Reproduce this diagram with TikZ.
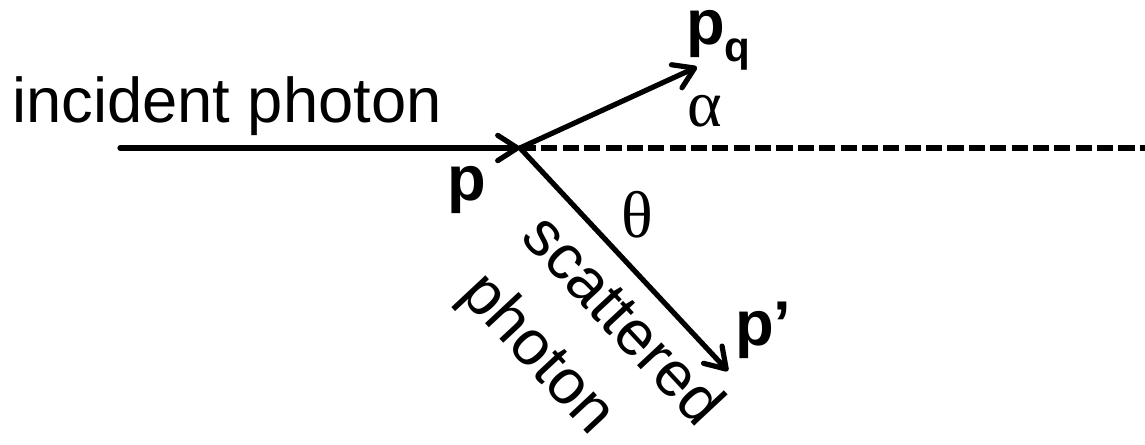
\documentclass[tikz,border=0pt]{standalone}
\usepackage{fontspec}
\setmainfont{Liberation Sans}
\newfontfamily\greekfont{Liberation Serif}
\usetikzlibrary{arrows.meta}

\begin{document}
\begin{tikzpicture}[x=0.025cm, y=0.025cm,
  ray/.style={line width=3.7pt, line cap=round, line join=round,
    -{Straight Barb[length=14pt, width=18pt, round]}},
  axisline/.style={line width=3.8pt, dash pattern=on 11.4pt off 3.8pt},
  lab/.style={font=\fontsize{45}{54}\selectfont, inner sep=0pt},
  vec/.style={inner sep=0pt, font=\fontsize{45}{54}\selectfont\bfseries},
  greek/.style={inner sep=0pt, font=\fontsize{47}{54}\selectfont\greekfont}]
\useasboundingbox (0,0) rectangle (1145,445);
% ---------------- rays ----------------
\coordinate (src) at (120,297);
\coordinate (O) at (520,297);
\coordinate (far) at (1145,297);
\coordinate (pqtip) at (697,378);
\coordinate (pptip) at (728,74);
\draw[axisline] (O) -- (far);
\draw[ray] (src) -- (O);
\draw[ray] (O) -- (pqtip);
\draw[ray] (O) -- (pptip);
% ---------------- labels ----------------
\node[lab, anchor=base west] (incident) at (12,322) {incident photon};
\node[vec, anchor=base west] (p) at (447,244) {p};
\node[vec, anchor=base west] (pq) at (686,400)
  {p\raisebox{-11.4pt}{\fontsize{30}{30}\selectfont q}};
\node[vec, anchor=base west] (pprime) at (735,99) {p’};
\node[greek] (alpha) at (705,334) {α};
\node[greek] (theta) at (637,230) {θ};
\node[lab, font=\fontsize{45}{59}\selectfont, align=left, rotate=-47]
  (scattered) at (590,94) {scattered\\ photon};
\end{tikzpicture}
\end{document}
